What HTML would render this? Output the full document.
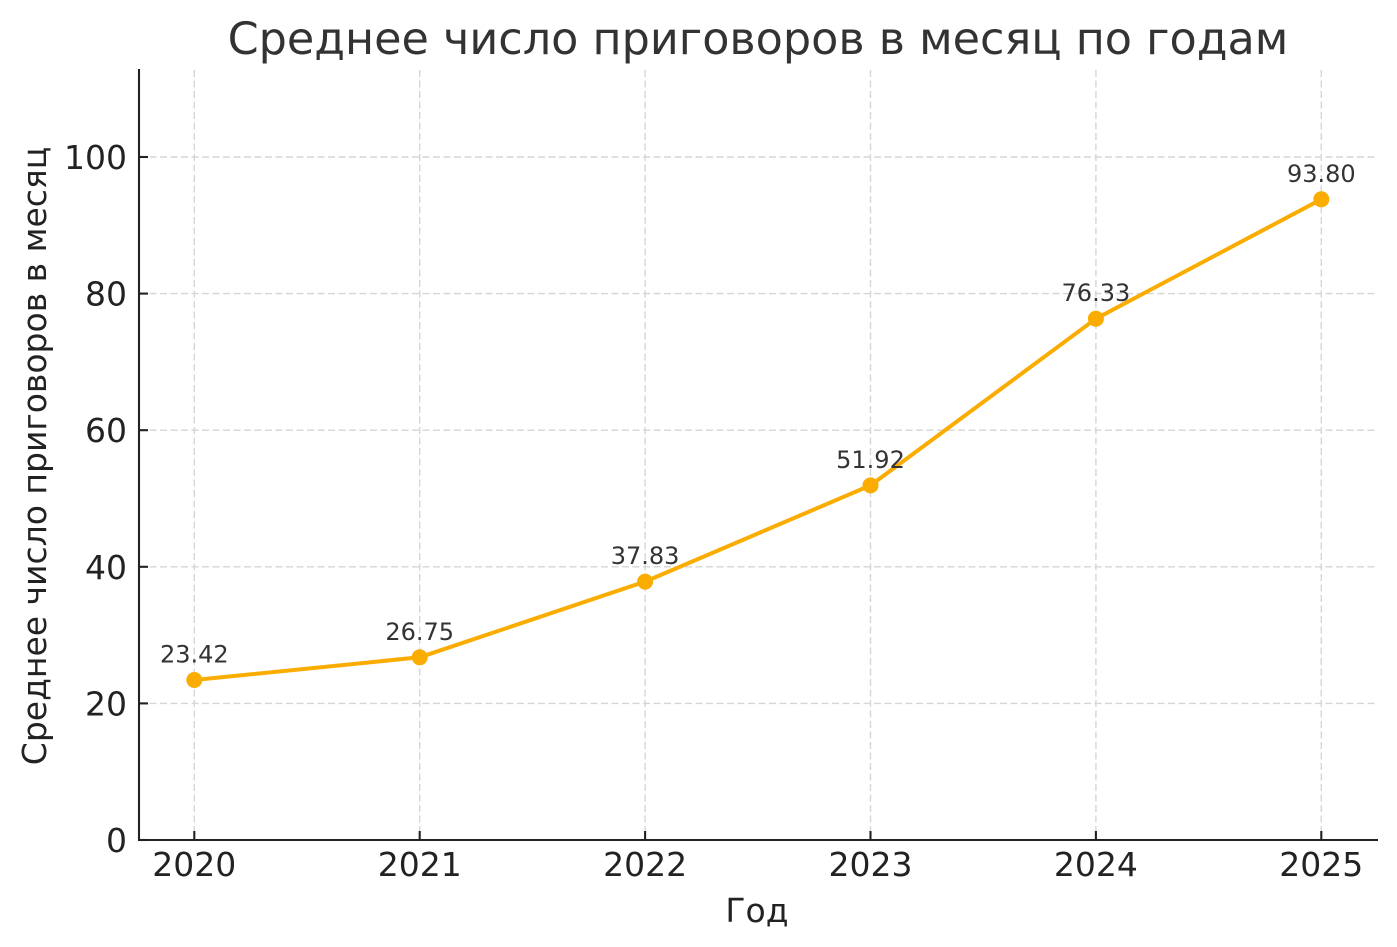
<!DOCTYPE html>
<html>
<head>
<meta charset="utf-8">
<style>
  html, body { margin: 0; padding: 0; background: #ffffff; }
  svg { display: block; }
  text { font-family: "DejaVu Sans", "Liberation Sans", sans-serif; }
</style>
</head>
<body>
<svg width="1397" height="947" viewBox="0 0 1397 947" xmlns="http://www.w3.org/2000/svg">
  <rect x="0" y="0" width="1397" height="947" fill="#ffffff"/>

  <!-- grid -->
  <g stroke="#d6d6d6" stroke-width="1.4" stroke-dasharray="7,3.5" fill="none">
    <line x1="139" y1="703.4" x2="1378" y2="703.4"/>
    <line x1="139" y1="566.8" x2="1378" y2="566.8"/>
    <line x1="139" y1="430.2" x2="1378" y2="430.2"/>
    <line x1="139" y1="293.6" x2="1378" y2="293.6"/>
    <line x1="139" y1="157" x2="1378" y2="157"/>
    <line x1="194.3" y1="70" x2="194.3" y2="840"/>
    <line x1="419.7" y1="70" x2="419.7" y2="840"/>
    <line x1="645.1" y1="70" x2="645.1" y2="840"/>
    <line x1="870.5" y1="70" x2="870.5" y2="840"/>
    <line x1="1095.9" y1="70" x2="1095.9" y2="840"/>
    <line x1="1321.3" y1="70" x2="1321.3" y2="840"/>
  </g>

  <!-- spines -->
  <g stroke="#222222" stroke-width="2.1" fill="none">
    <line x1="139" y1="69" x2="139" y2="841"/>
    <line x1="138" y1="840" x2="1378" y2="840"/>
  </g>

  <!-- ticks (inward) -->
  <g stroke="#222222" stroke-width="2.1">
    <line x1="139" y1="840" x2="148" y2="840"/>
    <line x1="139" y1="703.4" x2="148" y2="703.4"/>
    <line x1="139" y1="566.8" x2="148" y2="566.8"/>
    <line x1="139" y1="430.2" x2="148" y2="430.2"/>
    <line x1="139" y1="293.6" x2="148" y2="293.6"/>
    <line x1="139" y1="157" x2="148" y2="157"/>
    <line x1="194.3" y1="840" x2="194.3" y2="831"/>
    <line x1="419.7" y1="840" x2="419.7" y2="831"/>
    <line x1="645.1" y1="840" x2="645.1" y2="831"/>
    <line x1="870.5" y1="840" x2="870.5" y2="831"/>
    <line x1="1095.9" y1="840" x2="1095.9" y2="831"/>
    <line x1="1321.3" y1="840" x2="1321.3" y2="831"/>
  </g>

  <!-- y tick labels -->
  <g font-size="33" fill="#222222" text-anchor="end">
    <text x="127" y="852">0</text>
    <text x="127" y="715.4">20</text>
    <text x="127" y="578.8">40</text>
    <text x="127" y="442.2">60</text>
    <text x="127" y="305.6">80</text>
    <text x="127" y="169">100</text>
  </g>

  <!-- x tick labels -->
  <g font-size="33" fill="#222222" text-anchor="middle">
    <text x="194.3" y="876">2020</text>
    <text x="419.7" y="876">2021</text>
    <text x="645.1" y="876">2022</text>
    <text x="870.5" y="876">2023</text>
    <text x="1095.9" y="876">2024</text>
    <text x="1321.3" y="876">2025</text>
  </g>

  <!-- axis labels -->
  <text x="757" y="922" font-size="33" fill="#222222" text-anchor="middle">Год</text>
  <text x="0" y="0" font-size="33" fill="#222222" text-anchor="middle" transform="translate(46,456) rotate(-90)">Среднее число приговоров в месяц</text>

  <!-- title -->
  <text x="758" y="54" font-size="44.5" fill="#333333" text-anchor="middle">Среднее число приговоров в месяц по годам</text>

  <!-- series -->
  <polyline fill="none" stroke="#FBAC00" stroke-width="4" stroke-linejoin="round"
    points="194.3,680 419.7,657.3 645.1,581.6 870.5,485.4 1095.9,318.7 1321.3,199.3"/>
  <g fill="#FBAC00">
    <circle cx="194.3" cy="680" r="8"/>
    <circle cx="419.7" cy="657.3" r="8"/>
    <circle cx="645.1" cy="581.6" r="8"/>
    <circle cx="870.5" cy="485.4" r="8"/>
    <circle cx="1095.9" cy="318.7" r="8"/>
    <circle cx="1321.3" cy="199.3" r="8"/>
  </g>

  <!-- data labels -->
  <g font-size="24" fill="#333333" text-anchor="middle">
    <text x="194.3" y="662.5">23.42</text>
    <text x="419.7" y="639.8">26.75</text>
    <text x="645.1" y="564.1">37.83</text>
    <text x="870.5" y="467.9">51.92</text>
    <text x="1095.9" y="301.2">76.33</text>
    <text x="1321.3" y="181.8">93.80</text>
  </g>
</svg>
</body>
</html>
